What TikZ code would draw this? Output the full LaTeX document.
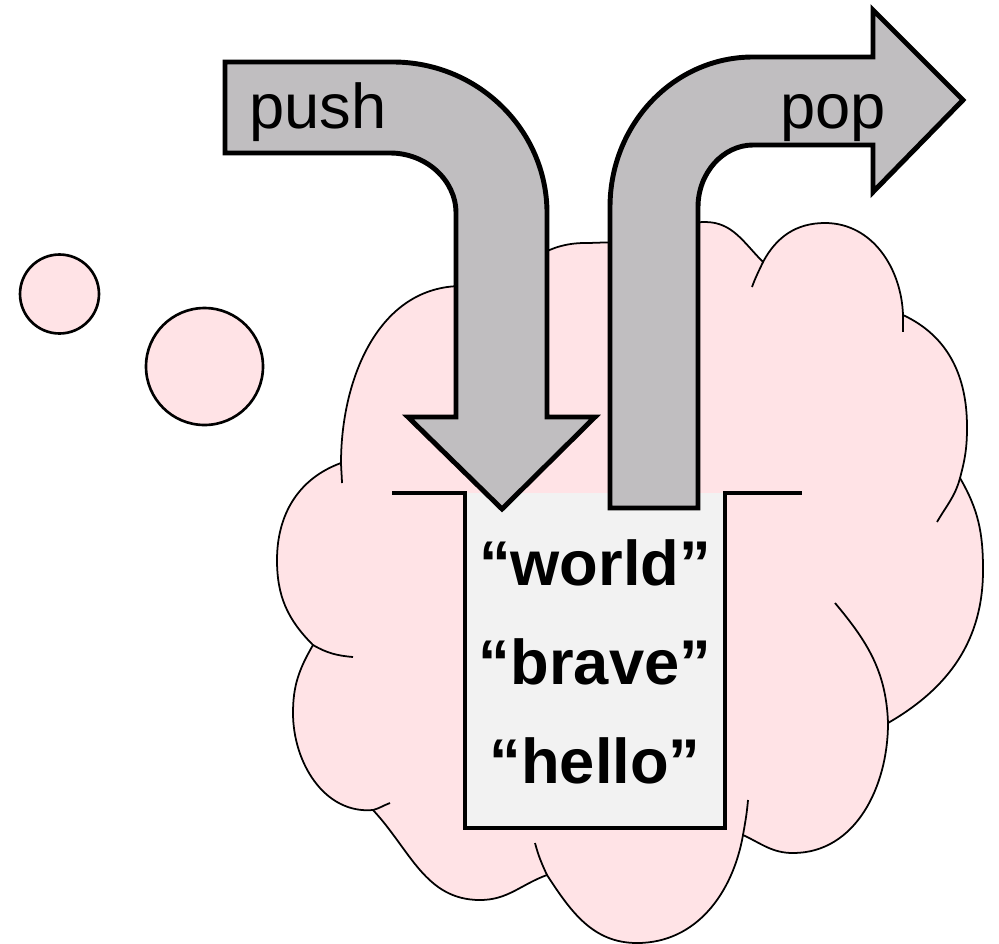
\documentclass[tikz,border=0pt]{standalone}
\usepackage{fontspec}
\setmainfont{Liberation Sans}
\definecolor{cloudpink}{RGB}{255,227,230}
\definecolor{arrowgray}{RGB}{192,190,192}
\definecolor{stackgray}{RGB}{242,242,242}

\begin{document}
\begin{tikzpicture}[x=0.02cm,y=-0.02cm,
    puff/.style={fill=cloudpink,draw=black,line width=1pt},
    seam/.style={draw=black,line width=1pt},
    bubble/.style={circle,fill=cloudpink,draw=black,line width=1.5pt,inner sep=0pt,outer sep=0pt},
    bigarrow/.style={fill=arrowgray,draw=black,line width=2.8pt,line join=miter},
    stackbox/.style={fill=stackgray,minimum width=5.2cm,minimum height=6.7cm,inner sep=0pt,outer sep=0pt},
    wall/.style={draw=black,line width=2.4pt},
    arrowtext/.style={font=\fontsize{36}{40}\selectfont,inner sep=0pt},
    entry/.style={font=\fontsize{36}{40}\selectfont\bfseries,inner sep=0pt,anchor=base}]
\useasboundingbox (0,0) rectangle (999,943);

\node[bubble,minimum size=1.58cm] (dot1) at (59.5,294) {};
\node[bubble,minimum size=2.34cm] (dot2) at (204.5,366.5) {};

\path[puff] (341,463)
  to[out=90,in=180] (462,286) to[out=0,in=120] (505,300)
  to[out=70,in=180] (585,243) to[out=0,in=110] (650,262)
  to[out=80,in=180] (705,222) to[out=0,in=135] (763,262)
  to[out=62,in=180] (825,223) to[out=0,in=92] (903,315)
  to[out=-25,in=90] (967,427) to[out=-90,in=75] (960,478)
  to[out=-60,in=90] (983,570) to[out=-90,in=30] (888,723)
  to[out=-90,in=0] (793,853) to[out=180,in=-25] (743,835)
  to[out=-100,in=0] (637,943) to[out=180,in=-57] (547,875)
  to[out=200,in=0] (480,900) to[out=180,in=-47] (373,810)
  to[out=185,in=-90] (293,713) to[out=90,in=-120] (313,645)
  to[out=135,in=-90] (277,560) to[out=90,in=200] (341,463)
  -- cycle;
\draw[seam] (341,463) to[out=-88,in=92] (342,483);
\draw[seam] (313,645) to[out=-30,in=175] (353,657);
\draw[seam] (373,810) to[out=15,in=200] (390,803);
\draw[seam] (547,875) to[out=115,in=-75] (535,843);
\draw[seam] (743,835) to[out=80,in=-95] (748,800);
\draw[seam] (888,723) to[out=92,in=-50] (835,603);
\draw[seam] (960,478) to[out=-105,in=60] (937,522);
\draw[seam] (903,315) to[out=-90,in=90] (903,332);
\draw[seam] (763,262) to[out=245,in=70] (752,287);

\node[stackbox] (stack) at (595,660.5) {};
\draw[wall] ([xshift=-1.46cm]stack.north west) -- (stack.north west) -- (stack.south west)
  -- (stack.south east) -- (stack.north east) -- ++(77,0);

\draw[bigarrow] (225,62) -- (393,62) .. controls (478,62) and (547,130) .. (547,213)
  -- (547,417) -- (595,417) -- (502,509) -- (408,417) -- (456,417) -- (456,213)
  .. controls (456,180) and (426,153) .. (390,153) -- (225,153) -- cycle;
\draw[bigarrow] (610,508) -- (610,207) .. controls (610,124) and (674,57) .. (753,57)
  -- (873,57) -- (873,10) -- (963,100) -- (873,192) -- (873,145) -- (753,145)
  .. controls (723,145) and (698,173) .. (698,207) -- (698,508) -- cycle;

\node[arrowtext,anchor=base west] (push) at (249,128) {push};
\node[arrowtext,anchor=base east] (pop) at (886,128) {pop};

\node[entry] (world) at (595,585) {“world”};
\node[entry] (brave) at (595,684) {“brave”};
\node[entry] (hello) at (595,783) {“hello”};
\end{tikzpicture}
\end{document}
